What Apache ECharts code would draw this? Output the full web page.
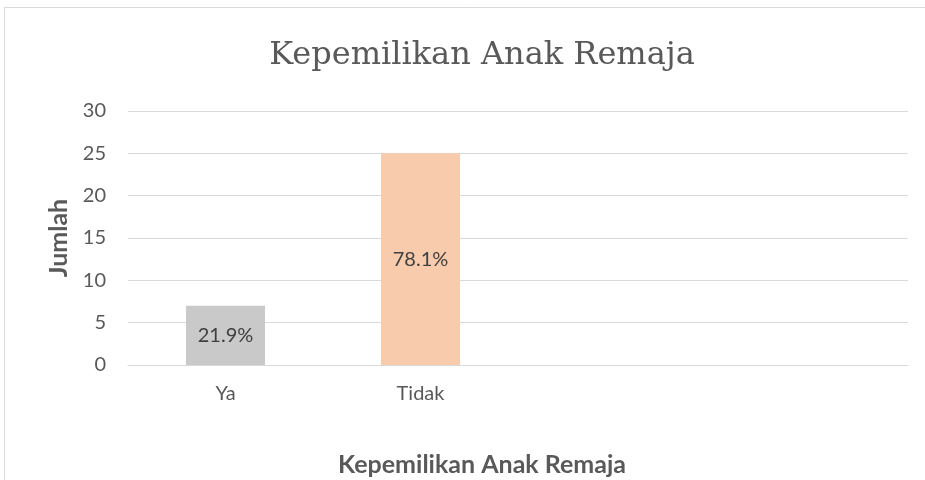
<!DOCTYPE html>
<html>
<head>
<meta charset="utf-8">
<script src="https://cdn.jsdelivr.net/npm/echarts@6/dist/echarts.min.js"></script>
<style>
html,body{margin:0;padding:0;background:#fff;}
#c{width:925px;height:480px;}
</style>
</head>
<body>
<div id="c"></div>
<script>
var categories = ['Ya', 'Tidak', '', ''];
var values = [7, 25, null, null];
var barColors = ['#C9C9C9', '#F8CBAD'];
var yTicks = [0, 5, 10, 15, 20, 25, 30];

var total = values.reduce(function (a, b) { return a + (b || 0); }, 0);
var chart = echarts.init(document.getElementById('c'), null, { renderer: 'canvas' });
var textColor = '#595959';
var sansFont = 'Lato';

chart.setOption({
  animation: false,
  backgroundColor: '#ffffff',
  graphic: [{
    type: 'rect',
    shape: { x: 4.5, y: 7.5, width: 1000, height: 600 },
    style: { fill: 'none', stroke: '#D9D9D9', lineWidth: 1 },
    silent: true
  }],
  title: [{
    text: 'Kepemilikan Anak Remaja',
    left: 477, top: 35, textAlign: 'center',
    textStyle: { fontFamily: 'DejaVu Serif', fontWeight: 'normal', fontSize: 32, color: textColor }
  }, {
    text: 'Kepemilikan Anak Remaja',
    left: 477, top: 447, textAlign: 'center',
    textStyle: { fontFamily: sansFont, fontWeight: 'bold', fontSize: 25, color: textColor }
  }],
  grid: { left: 128, right: 17, top: 111, bottom: 115, containLabel: false },
  xAxis: {
    type: 'category',
    data: categories,
    axisLine: { show: true, lineStyle: { color: '#D9D9D9', width: 1 } },
    axisTick: { show: false },
    axisLabel: { color: textColor, fontFamily: sansFont, fontSize: 20, margin: 19 }
  },
  yAxis: {
    type: 'value',
    min: yTicks[0], max: yTicks[yTicks.length - 1], interval: 5,
    name: 'Jumlah', nameLocation: 'middle', nameGap: 57,
    nameTextStyle: { fontFamily: sansFont, fontWeight: 'bold', fontSize: 25, color: textColor },
    axisLine: { show: false },
    axisTick: { show: false },
    axisLabel: { color: textColor, fontFamily: sansFont, fontSize: 20, margin: 22 },
    splitLine: { lineStyle: { color: '#D9D9D9', width: 1 } }
  },
  series: [{
    type: 'bar',
    barWidth: '40.5%',
    data: values.map(function (v, i) {
      return { value: v, itemStyle: { color: barColors[i] || '#ccc' } };
    }),
    label: {
      show: true, position: 'inside',
      color: '#404040', fontFamily: sansFont, fontSize: 20,
      formatter: function (p) { return p.value == null ? '' : (p.value / total * 100).toFixed(1) + '%'; }
    }
  }]
});
</script>
</body>
</html>
